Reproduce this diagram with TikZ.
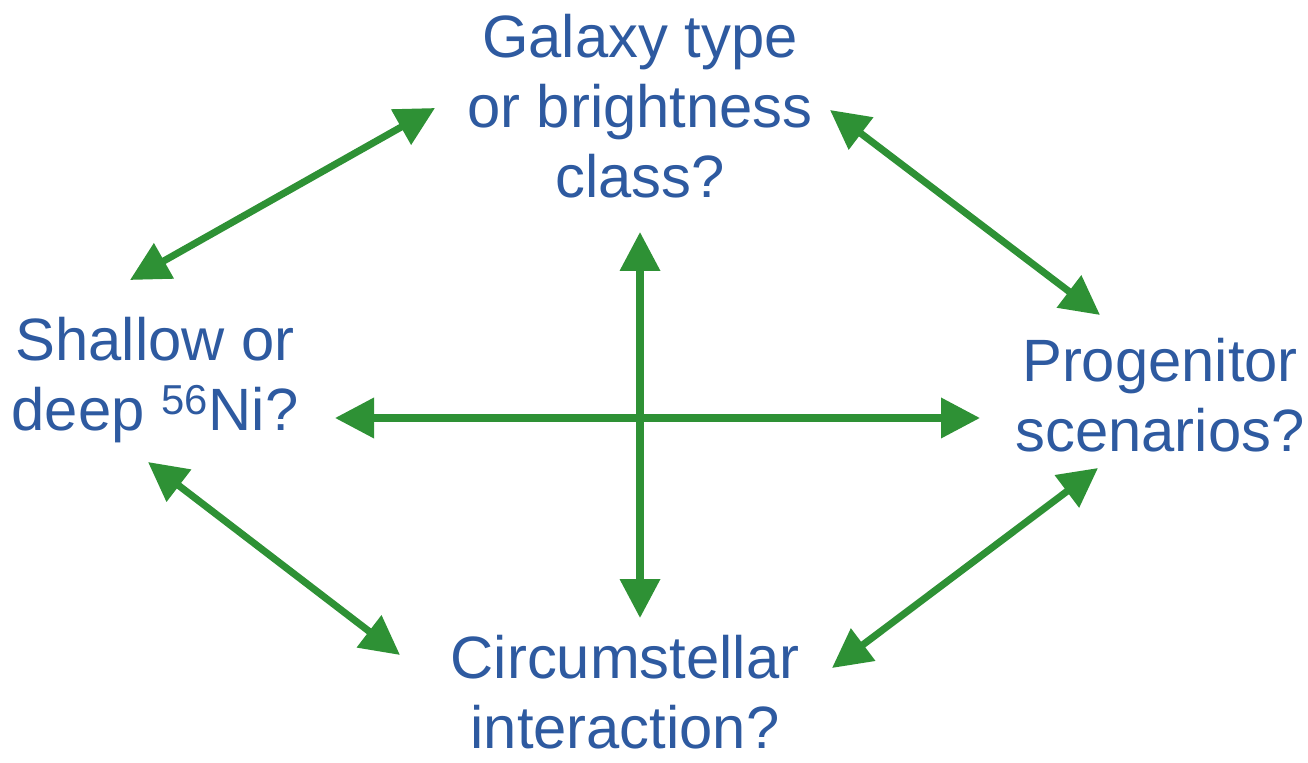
\documentclass[tikz,border=0pt]{standalone}
\usepackage{fontspec}
\setmainfont{Liberation Sans}
\usepackage{xcolor}
\usetikzlibrary{positioning, arrows.meta, calc}
\definecolor{qblue}{RGB}{46,90,160}
\definecolor{qgreen}{RGB}{46,145,53}

\begin{document}
\begin{tikzpicture}[
    question/.style={align=center, text=qblue, font=\fontsize{34}{40}\selectfont},
    link/.style={{Triangle[length=0.78cm, width=0.78cm]}-{Triangle[length=0.78cm, width=0.78cm]}, line width=4pt, draw=qgreen, fill=qgreen}
]
    \useasboundingbox (0,0) rectangle (26.16,15.24);
    \node[question] (galaxy) at (12.8,13.12) {Galaxy type\\or brightness\\class?};
    \node[question] (shallow) at (3.1,7.64) {Shallow or\\deep \textsuperscript{56}Ni?};
    \node[question] (progenitor) at (23.2,7.34) {Progenitor\\scenarios?};
    \node[question] (circum) at (12.5,1.4) {Circumstellar\\interaction?};

    % arrow ends
    \coordinate (tl1) at (2.6,9.64);   \coordinate (tl2) at (8.7,13.08);
    \coordinate (tr1) at (16.6,13.04); \coordinate (tr2) at (22.0,8.94);
    \coordinate (bl1) at (2.96,6.0);   \coordinate (bl2) at (8.0,2.14);
    \coordinate (br1) at (21.96,5.88); \coordinate (br2) at (16.64,1.88);
    \coordinate (h1) at (6.7,6.88);    \coordinate (h2) at (19.6,6.88);
    \coordinate (v1) at (12.8,10.6);   \coordinate (v2) at (12.8,2.88);

    \draw[link] (tl1) -- (tl2);
    \draw[link] (tr1) -- (tr2);
    \draw[link] (bl1) -- (bl2);
    \draw[link] (br1) -- (br2);
    \draw[link] (h1) -- (h2);
    \draw[link] (v1) -- (v2);
\end{tikzpicture}
\end{document}
